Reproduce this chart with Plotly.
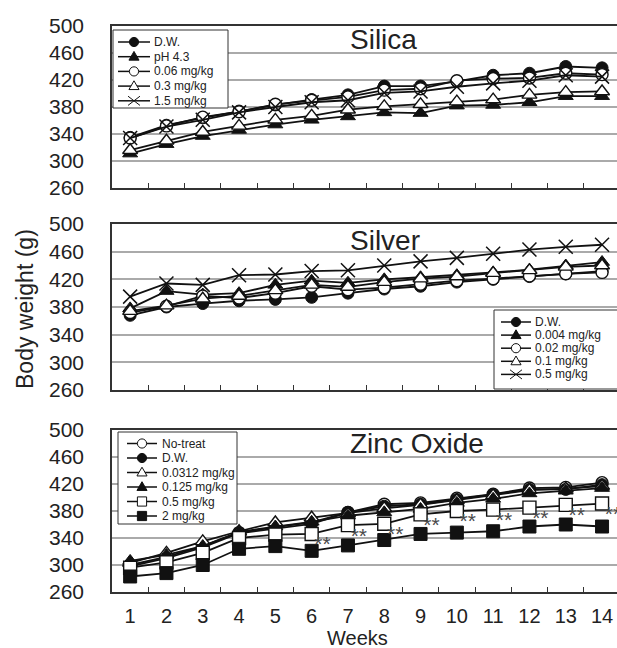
import plotly.graph_objects as go

# ---------------- data ----------------
weeks = list(range(1, 15))
week_labels = [str(w) for w in weeks]
y_ticks = [260, 300, 340, 380, 420, 460, 500]

panel_titles = ["Silica", "Silver", "Zinc Oxide"]

silica_names = ["D.W.", "pH 4.3", "0.06 mg/kg", "0.3 mg/kg", "1.5 mg/kg"]
silica_dw = [335, 353, 364, 374, 383, 391, 398, 411, 411, 418, 427, 430, 440, 438]
silica_ph43 = [311, 325, 337, 346, 354, 361, 366, 372, 371, 382, 383, 387, 396, 396]
silica_006 = [334, 352, 365, 373, 384, 390, 395, 405, 407, 419, 422, 423, 430, 428]
silica_03 = [316, 330, 343, 352, 361, 367, 376, 381, 384, 388, 391, 398, 402, 403]
silica_15 = [334, 351, 361, 372, 380, 387, 390, 401, 403, 410, 415, 419, 427, 425]

silver_names = ["D.W.", "0.004 mg/kg", "0.02 mg/kg", "0.1 mg/kg", "0.5 mg/kg"]
silver_dw = [368, 380, 385, 389, 391, 394, 400, 406, 410, 416, 420, 424, 428, 432]
silver_0004 = [378, 403, 398, 400, 412, 418, 415, 420, 423, 426, 430, 434, 440, 445]
silver_002 = [372, 381, 396, 393, 400, 410, 405, 408, 413, 418, 421, 425, 428, 430]
silver_01 = [374, 382, 392, 396, 404, 412, 409, 416, 421, 424, 429, 433, 438, 440]
silver_05 = [395, 414, 412, 426, 427, 432, 433, 440, 446, 451, 457, 463, 467, 470]

zinc_names = ["No-treat", "D.W.", "0.0312 mg/kg", "0.125 mg/kg", "0.5 mg/kg", "2 mg/kg"]
zinc_nt = [300, 312, 328, 348, 356, 363, 378, 390, 392, 399, 405, 414, 415, 422]
zinc_dw = [298, 310, 326, 347, 354, 361, 378, 387, 390, 397, 404, 412, 412, 419]
zinc_00312 = [303, 318, 335, 350, 363, 370, 376, 384, 389, 396, 403, 411, 413, 417]
zinc_0125 = [306, 315, 328, 349, 357, 364, 373, 378, 383, 392, 398, 406, 410, 414]
zinc_05 = [296, 304, 318, 340, 345, 346, 359, 361, 375, 380, 382, 385, 389, 391]
zinc_2 = [283, 288, 300, 324, 328, 321, 329, 337, 346, 348, 350, 357, 360, 357]
zinc_sig_weeks = [6, 7, 8, 9, 10, 11, 12, 13, 14]
zinc_sig_mark = "**"

# ---------------- styles ----------------
FONT = "Liberation Sans, Arial, sans-serif"
TXT = "#222222"
BLK = "#111111"
STY = {
    "fcircle": dict(symbol="circle", size=12, color=BLK, line=dict(color=BLK, width=1)),
    "ocircle": dict(symbol="circle", size=12, color="white", line=dict(color=BLK, width=1.4)),
    "ftri": dict(symbol="triangle-up", size=13, color=BLK, line=dict(color=BLK, width=1)),
    "otri": dict(symbol="triangle-up", size=13, color="white", line=dict(color=BLK, width=1.4)),
    "x": dict(symbol="x-thin", size=14, color=BLK, line=dict(color=BLK, width=1.5)),
    "fsq": dict(symbol="square", size=13, color=BLK, line=dict(color=BLK, width=1)),
    "osq": dict(symbol="square", size=13, color="white", line=dict(color=BLK, width=1.4)),
}

W, H = 617, 648
PLOT_L, PLOT_R, PLOT_T, PLOT_B = 112, 617, 26, 592   # plot area in px
ML, MR, MT, MB = PLOT_L, W - PLOT_R, PLOT_T, H - PLOT_B
PW, PH = W - ML - MR, H - MT - MB
WEEK_PX = 36.3


def pxx(sx):
    return (sx - PLOT_L) / PW


def pxy(sy):
    return (PLOT_B - sy) / PH


panel_px = [(26, 188), (224, 390), (430, 592)]

panels = [
    (silica_names, [silica_dw, silica_ph43, silica_006, silica_03, silica_15],
     ["fcircle", "ftri", "ocircle", "otri", "x"]),
    (silver_names, [silver_dw, silver_0004, silver_002, silver_01, silver_05],
     ["fcircle", "ftri", "ocircle", "otri", "x"]),
    (zinc_names, [zinc_nt, zinc_dw, zinc_00312, zinc_0125, zinc_05, zinc_2],
     ["ocircle", "fcircle", "otri", "ftri", "osq", "fsq"]),
]

fig = go.Figure()
for i, (names, series, syms) in enumerate(panels):
    ax = "" if i == 0 else str(i + 1)
    for name, vals, s in zip(names, series, syms):
        fig.add_trace(go.Scatter(
            x=weeks, y=vals, name=name, mode="lines+markers",
            line=dict(color=BLK, width=1.8), marker=STY[s],
            xaxis="x" + ax, yaxis="y" + ax, showlegend=False,
        ))

# significance marks
sig_x = [w + 0.3 for w in zinc_sig_weeks]
sig_y = [zinc_05[w - 1] - 18 for w in zinc_sig_weeks]
fig.add_trace(go.Scatter(
    x=sig_x, y=sig_y, mode="text", text=[zinc_sig_mark] * len(sig_x),
    textfont=dict(size=21, color="#4a4a4a", family=FONT),
    xaxis="x3", yaxis="y3", showlegend=False, cliponaxis=False,
))

xr = [0.5, 0.5 + PW / WEEK_PX]
layout = dict(
    width=W, height=H, autosize=False,
    margin=dict(l=ML, r=MR, t=MT, b=MB, pad=0),
    paper_bgcolor="white", plot_bgcolor="white",
    font=dict(family=FONT, color=TXT),
    showlegend=False,
)
for i in range(3):
    ax = "" if i == 0 else str(i + 1)
    top, bot = panel_px[i]
    layout["xaxis" + ax] = dict(
        domain=[0, 1], anchor="y" + ax, range=xr,
        tickvals=weeks, ticktext=week_labels, ticks="",
        showticklabels=(i == 2), ticklabelstandoff=5,
        tickfont=dict(size=20, color=TXT),
        showgrid=False, zeroline=False,
        showline=True, linecolor="#333333", linewidth=1.5, mirror=True,
        minor=dict(tickvals=[w + 0.5 for w in weeks[:-1]], ticks="inside",
                   ticklen=5, tickwidth=1, tickcolor="#333333", showgrid=False),
    )
    layout["yaxis" + ax] = dict(
        domain=[pxy(bot), pxy(top)], anchor="x" + ax, range=[260, 500],
        tickvals=y_ticks, ticks="", ticklabelstandoff=22,
        tickfont=dict(size=21, color=TXT),
        showgrid=True, gridcolor="#aaaaaa", gridwidth=1.5, zeroline=False,
        showline=True, linecolor="#333333", linewidth=1.5, mirror=False,
    )

annotations = []
shapes = []

# panel titles
title_px = [(348, 40), (348, 240), (348, 444)]
for t, (tx, ty) in zip(panel_titles, title_px):
    annotations.append(dict(text=t, x=pxx(tx), y=pxy(ty), xref="paper", yref="paper",
                            xanchor="left", yanchor="middle", showarrow=False,
                            font=dict(size=28, color=TXT)))

annotations.append(dict(text="Body weight (g)", x=pxx(25), y=pxy(309), xref="paper", yref="paper",
                        textangle=-90, xanchor="center", yanchor="middle", showarrow=False,
                        font=dict(size=23, color=TXT)))
annotations.append(dict(text="Weeks", x=pxx(357), y=pxy(638), xref="paper", yref="paper",
                        xanchor="center", yanchor="middle", showarrow=False,
                        font=dict(size=20, color=TXT)))


def legend_box(box, line_x, cx, text_x, row0, step, names, syms, r=4.6):
    x0, y0, x1, y1 = box
    shapes.append(dict(type="rect", xref="paper", yref="paper",
                       x0=pxx(x0), x1=pxx(x1), y0=pxy(y1), y1=pxy(y0),
                       line=dict(color="#333333", width=1), fillcolor="white", layer="above"))
    for k, (nm, s) in enumerate(zip(names, syms)):
        cy = row0 + k * step
        shapes.append(dict(type="line", xref="paper", yref="paper",
                           x0=pxx(line_x[0]), x1=pxx(line_x[1]), y0=pxy(cy), y1=pxy(cy),
                           line=dict(color=BLK, width=1.5), layer="above"))
        fill = BLK if s.startswith("f") else "white"
        if s.endswith("circle"):
            shapes.append(dict(type="circle", xref="paper", yref="paper",
                               x0=pxx(cx - r), x1=pxx(cx + r), y0=pxy(cy + r), y1=pxy(cy - r),
                               fillcolor=fill, line=dict(color=BLK, width=1), layer="above"))
        elif s.endswith("sq"):
            shapes.append(dict(type="rect", xref="paper", yref="paper",
                               x0=pxx(cx - r), x1=pxx(cx + r), y0=pxy(cy + r), y1=pxy(cy - r),
                               fillcolor=fill, line=dict(color=BLK, width=1), layer="above"))
        elif s.endswith("tri"):
            p = "M {:.5f} {:.5f} L {:.5f} {:.5f} L {:.5f} {:.5f} Z".format(
                pxx(cx), pxy(cy - r * 1.15), pxx(cx + r * 1.1), pxy(cy + r * 0.75),
                pxx(cx - r * 1.1), pxy(cy + r * 0.75))
            shapes.append(dict(type="path", xref="paper", yref="paper", path=p,
                               fillcolor=fill, line=dict(color=BLK, width=1), layer="above"))
        else:
            p = "M {:.5f} {:.5f} L {:.5f} {:.5f} M {:.5f} {:.5f} L {:.5f} {:.5f}".format(
                pxx(cx - r * 1.3), pxy(cy - r), pxx(cx + r * 1.3), pxy(cy + r),
                pxx(cx - r * 1.3), pxy(cy + r), pxx(cx + r * 1.3), pxy(cy - r))
            shapes.append(dict(type="path", xref="paper", yref="paper", path=p,
                               line=dict(color=BLK, width=1), layer="above"))
        annotations.append(dict(text=nm, x=pxx(text_x), y=pxy(cy), xref="paper", yref="paper",
                                xanchor="left", yanchor="middle", showarrow=False,
                                font=dict(size=12, color=TXT)))


legend_box((113, 30, 228, 108), (118, 150), 134, 152, 42, 14.7, silica_names, panels[0][2])
legend_box((494, 310, 640, 389), (501, 531), 516, 533, 322, 13.1, silver_names, panels[1][2])
legend_box((118, 432, 237, 524), (127, 157), 142, 160, 443.5, 14.5, zinc_names, panels[2][2])

layout["annotations"] = annotations
layout["shapes"] = shapes
fig.update_layout(**layout)

# the page's default body margin would shift the 617x648 figure; remove it
fig.write_html(
    "out.html",
    config={"displayModeBar": False},
    post_script="document.body.style.margin='0';document.body.style.overflow='hidden';",
)
